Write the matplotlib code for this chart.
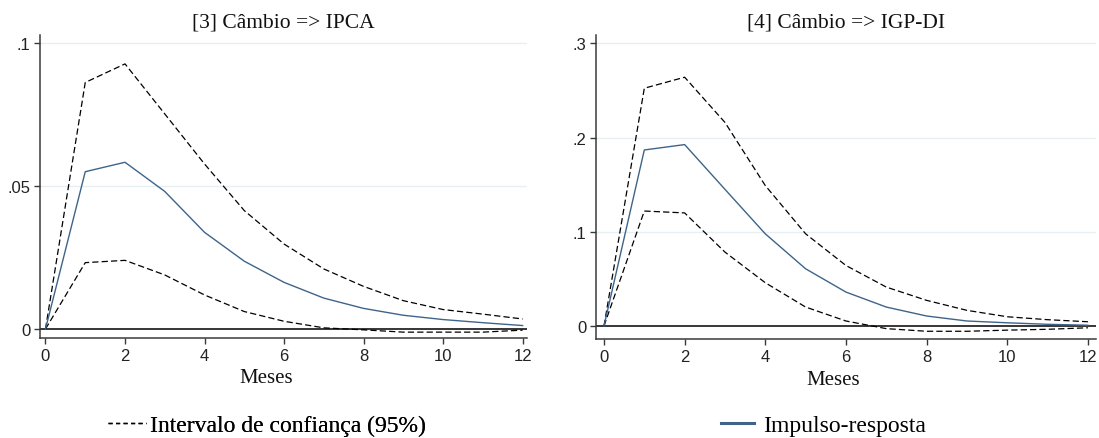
import matplotlib
matplotlib.use("Agg")
import matplotlib.pyplot as plt
from matplotlib.lines import Line2D

# ---------------- data ----------------
months = [0, 1, 2, 3, 4, 5, 6, 7, 8, 9, 10, 11, 12]

ipca_irf = [0, 0.0550, 0.0583, 0.0481, 0.0338, 0.0237, 0.0163, 0.0108, 0.0072, 0.0048, 0.0033, 0.0022, 0.0012]
ipca_upper = [0, 0.0862, 0.0927, 0.0752, 0.0577, 0.0414, 0.0297, 0.0210, 0.0149, 0.0099, 0.0068, 0.0052, 0.0035]
ipca_lower = [0, 0.0232, 0.0240, 0.0189, 0.0119, 0.0061, 0.0027, 0.0004, -0.0003, -0.0011, -0.0011, -0.0011, -0.0004]

igp_irf = [0, 0.1868, 0.1925, 0.1450, 0.0978, 0.0607, 0.0360, 0.0201, 0.0106, 0.0053, 0.0034, 0.0018, 0.0008]
igp_upper = [0, 0.2523, 0.2640, 0.2160, 0.1490, 0.0978, 0.0642, 0.0413, 0.0272, 0.0166, 0.0098, 0.0067, 0.0045]
igp_lower = [0, 0.1220, 0.1200, 0.0784, 0.0459, 0.0201, 0.0053, -0.0028, -0.0056, -0.0056, -0.0044, -0.0035, -0.0019]

titles = ["[3] Câmbio => IPCA", "[4] Câmbio => IGP-DI"]
xlabel = "Meses"
xticks = [0, 2, 4, 6, 8, 10, 12]
ipca_yticks = [0, 0.05, 0.1]
ipca_yticklabels = ["0", ".05", ".1"]
igp_yticks = [0, 0.1, 0.2, 0.3]
igp_yticklabels = ["0", ".1", ".2", ".3"]
legend_ci = "Intervalo de confiança (95%)"
legend_irf = "Impulso-resposta"

# ---------------- style ----------------
W, H = 1099, 439
fig = plt.figure(figsize=(W / 100, H / 100), dpi=100)
fig.patch.set_facecolor("white")

SERIF = ["Liberation Serif", "DejaVu Serif"]
SANS = ["Liberation Sans", "DejaVu Sans"]
BLUE = "#3e6489"
AXCOL = "#3a3a3a"
GRID = "#e6eff1"
DASH = (0, (5, 2.5))


def px_axes(x0, x1, ytop, ybot):
    return [x0 / W, 1 - ybot / H, (x1 - x0) / W, (ybot - ytop) / H]


panels = [
    dict(rect=px_axes(40, 527, 36, 339), xlim=(-0.138, 12.11), ylim=(-0.00315, 0.1028),
         irf=ipca_irf, up=ipca_upper, lo=ipca_lower, yt=ipca_yticks, ytl=ipca_yticklabels,
         title=titles[0], xlab_x=0.464),
    dict(rect=px_axes(596, 1096, 36, 340), xlim=(-0.198, 12.2), ylim=(-0.0138, 0.3088),
         irf=igp_irf, up=igp_upper, lo=igp_lower, yt=igp_yticks, ytl=igp_yticklabels,
         title=titles[1], xlab_x=0.474),
]

for p in panels:
    ax = fig.add_axes(p["rect"])
    ax.set_xlim(*p["xlim"])
    ax.set_ylim(*p["ylim"])
    for yv in p["yt"]:
        if yv != 0:
            ax.axhline(yv, color=GRID, lw=1.0, zorder=0)
    ax.axhline(0, color="black", lw=1.1, zorder=1)
    ax.plot(months, p["up"], color="black", lw=0.9, linestyle=DASH, zorder=2)
    ax.plot(months, p["lo"], color="black", lw=0.9, linestyle=DASH, zorder=2)
    ax.plot(months, p["irf"], color=BLUE, lw=1.0, zorder=3)

    for s in ["top", "right"]:
        ax.spines[s].set_visible(False)
    for s in ["left", "bottom"]:
        ax.spines[s].set_color(AXCOL)
        ax.spines[s].set_linewidth(1.1)

    ax.set_xticks(xticks)
    ax.set_xticklabels([str(t) for t in xticks], fontfamily=SANS, fontsize=12)
    ax.set_yticks(p["yt"])
    ax.set_yticklabels(p["ytl"], fontfamily=SANS, fontsize=12)
    ax.tick_params(axis="both", direction="out", length=4, width=1.0, color=AXCOL,
                   labelcolor="#222222")
    ax.tick_params(axis="x", pad=3)
    ax.tick_params(axis="y", pad=3)

    ax.text(0.5, 1 + 13 / 303, p["title"], transform=ax.transAxes, ha="center", va="center",
            fontfamily=SERIF, fontsize=15.5, color="#111111")
    ax.text(p["xlab_x"], -40 / 303, xlabel, transform=ax.transAxes, ha="center", va="center",
            fontfamily=SERIF, fontsize=15, color="#111111")

# ---------------- legend ----------------
h_ci = Line2D([], [], color="black", lw=1.0, linestyle=(0, (3, 2.4)))
h_irf = Line2D([], [], color=BLUE, lw=2.2)

leg1 = fig.legend([h_ci], [legend_ci], loc="center left",
                  bbox_to_anchor=(108 / W, 1 - 426 / H), frameon=False,
                  borderpad=0, borderaxespad=0, handlelength=1.6, handletextpad=0.18,
                  prop={"family": SERIF, "size": 17})
leg2 = fig.legend([h_irf], [legend_irf], loc="center left",
                  bbox_to_anchor=(721 / W, 1 - 426 / H), frameon=False,
                  borderpad=0, borderaxespad=0, handlelength=1.4, handletextpad=0.38,
                  prop={"family": SERIF, "size": 17})
fig.add_artist(leg1)

fig.savefig("out.png", dpi=100, facecolor="white")
